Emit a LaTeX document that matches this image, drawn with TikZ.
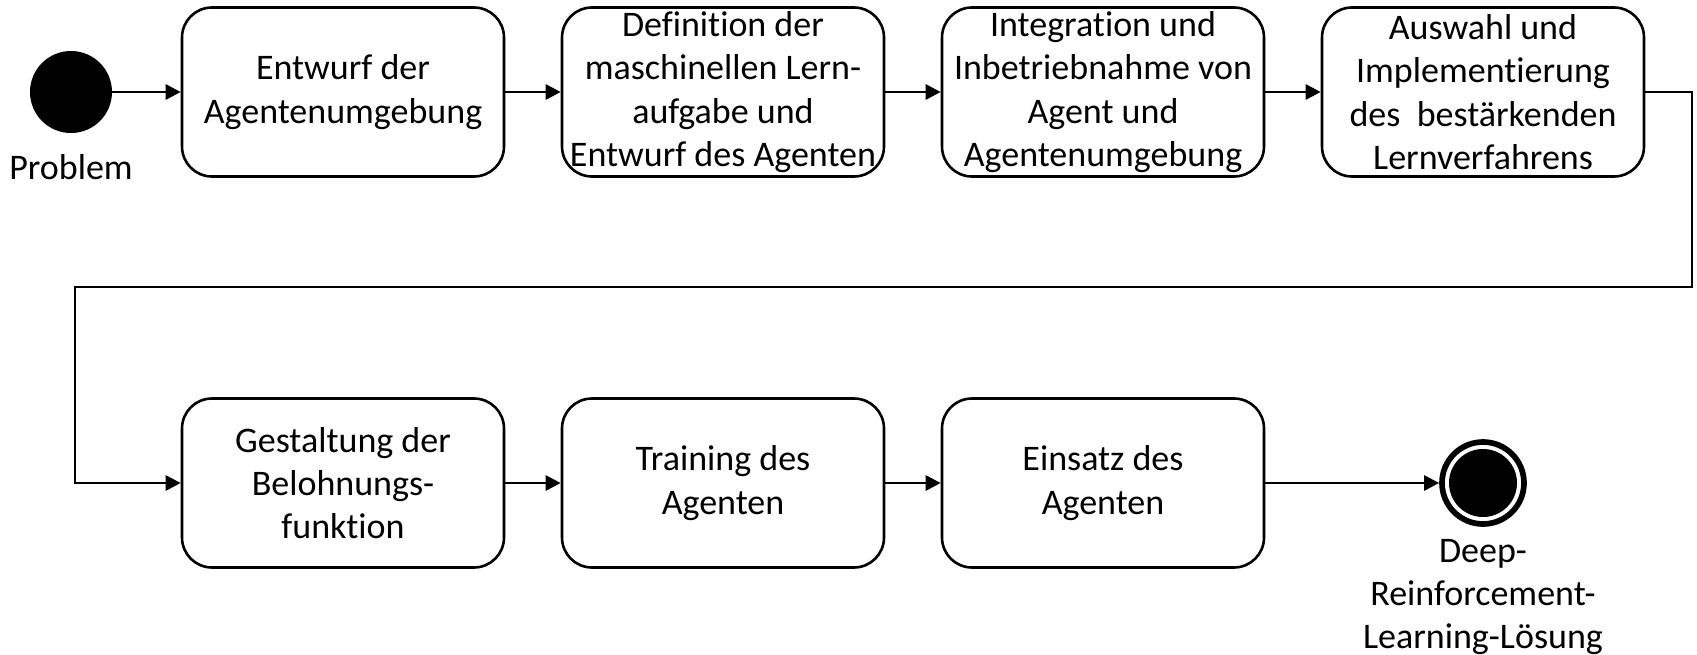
\documentclass[tikz,border=0pt]{standalone}
\usepackage{fontspec}
\setmainfont{Carlito}[Ligatures={NoCommon}]
\usetikzlibrary{arrows.meta}
\tikzset{
  stepbox/.style={draw, line width=2.6pt, rounded corners=30pt, minimum width=322pt,
    minimum height=169pt, inner sep=0pt, align=center, fill=white},
  txt/.style={font=\fontsize{36}{43.3}\selectfont},
  arr/.style={line width=2.8pt, -{Triangle[length=15pt,width=15pt]}},
  startdot/.style={circle, fill=black, minimum size=82pt, inner sep=0pt},
  enddot/.style={circle, draw, line width=5.7pt, fill=white, minimum size=82pt, inner sep=0pt},
  lbl/.style={txt, align=center, inner sep=0pt}
}
\begin{document}
\begin{tikzpicture}[x=1pt, y=-1pt]
\useasboundingbox (0,0) rectangle (1697,655);

% upper row
\node[startdot] (start) at (71,92) {};
\node[lbl] (startlbl) at (71,167) {Problem};
\node[stepbox, txt] (b1) at (343,92) {Entwurf der\\Agentenumgebung};
\node[stepbox, txt] (b2) at (723,92) {Definition der\\maschinellen Lern-\\aufgabe und\\Entwurf des Agenten};
\node[stepbox, txt] (b3) at (1103,92) {Integration und\\Inbetriebnahme von\\Agent und\\Agentenumgebung};
\node[stepbox, txt] (b4) at (1483,92) {Auswahl und\\Implementierung\\des\ \ bestärkenden\\Lernverfahrens};

% lower row
\node[stepbox, txt] (b5) at (343,483) {Gestaltung der\\Belohnungs-\\funktion};
\node[stepbox, txt] (b6) at (723,483) {Training des\\Agenten};
\node[stepbox, txt] (b7) at (1103,483) {Einsatz des\\Agenten};
\node[enddot] (finish) at (1483,483) {};
\node[circle, fill=black, minimum size=68pt, inner sep=0pt] (finishcore) at (finish) {};
\node[lbl] (finishlbl) at (1483,597) {Deep-\\Reinforcement-\\Learning-Lösung};

% bends of the return line
\coordinate (turnR) at (1692,287);
\coordinate (turnL) at (75,287);

% connectors
\draw[arr] (start) -- (b1);
\draw[arr] (b1) -- (b2);
\draw[arr] (b2) -- (b3);
\draw[arr] (b3) -- (b4);
\draw[arr] (b4.east) -| (turnR) -- (turnL) |- (b5.west);
\draw[arr] (b5) -- (b6);
\draw[arr] (b6) -- (b7);
\draw[arr] (b7) -- (finish);
\end{tikzpicture}
\end{document}
